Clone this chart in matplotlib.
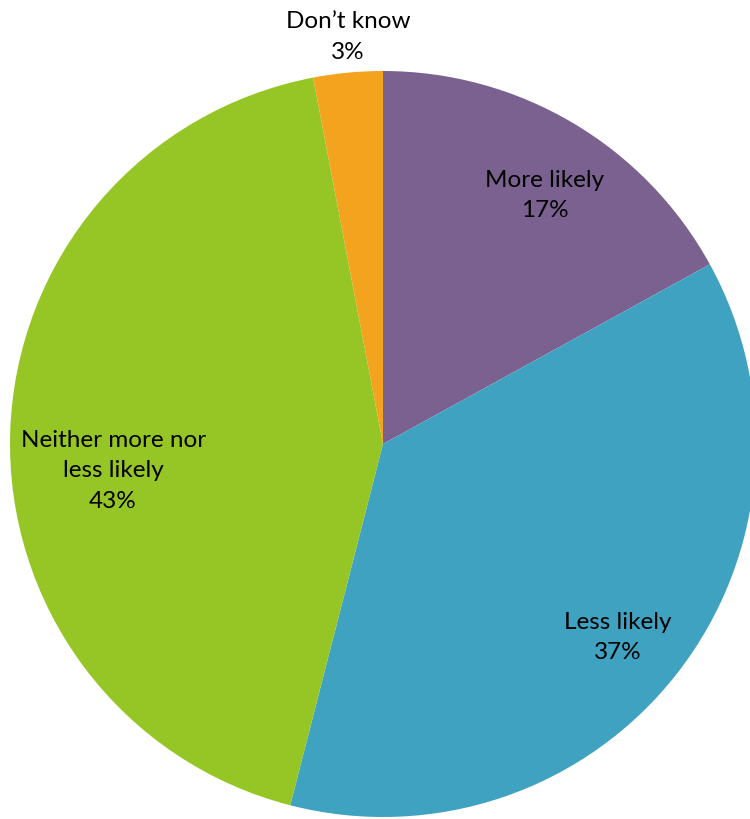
import numpy as np
import matplotlib
matplotlib.use("Agg")
import matplotlib.pyplot as plt

categories = ["More likely", "Less likely", "Neither more nor\nless likely", "Don\u2019t know"]
values = [17, 37, 43, 3]
colors = ["#7B6190", "#3FA2C1", "#96C626", "#F4A31E"]
label_r = [0.797, 0.814, 0.727, 1.098]
label_shift = [-2.4, -1.5, 7.3, -0.5]  # degrees from slice mid-angle

plt.rcParams['font.family'] = ['Lato', 'DejaVu Sans']

fig = plt.figure(figsize=(7.5, 8.2), dpi=100)
R = 373
cx, cy = 383, 445
ax = fig.add_axes([(cx - R) / 750, (820 - cy - R) / 820, 2 * R / 750, 2 * R / 820])
wedges, _ = ax.pie(values, colors=colors, startangle=90, counterclock=False,
                   radius=1, wedgeprops=dict(linewidth=0))
ax.set_xlim(-1, 1)
ax.set_ylim(-1, 1)
ax.set_aspect('auto')
ax.axis('off')

for w, cat, v, r, s in zip(wedges, categories, values, label_r, label_shift):
    ang = np.deg2rad((w.theta1 + w.theta2) / 2 + s)
    ax.text(r * np.cos(ang), r * np.sin(ang), f"{cat}\n{v}%", ha='center', va='center',
            fontsize=17.5, color='black', linespacing=1.55, clip_on=False)

fig.savefig("out.png", dpi=100)
